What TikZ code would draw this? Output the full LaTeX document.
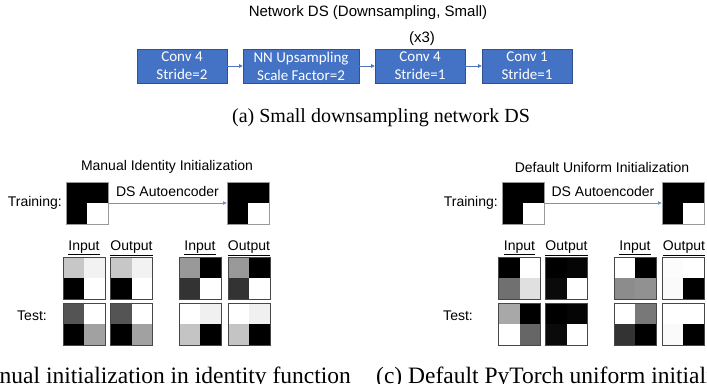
\documentclass[tikz,border=0pt]{standalone}
\usepackage{fontspec}
\setmainfont{Liberation Serif}
\setsansfont{Liberation Sans}
\newfontfamily\calibrifont{Carlito}
\usetikzlibrary{arrows.meta}
\definecolor{boxblue}{RGB}{68,114,196}
\definecolor{boxedge}{RGB}{47,82,143}
\definecolor{arrowblue}{RGB}{80,118,190}
\definecolor{linkblue}{RGB}{120,145,200}
\newcommand\tgrid[7]{%
  \fill[#4] (#2,#3) rectangle ++(21,21);
  \fill[#5] (#2+21,#3) rectangle ++(21,21);
  \fill[#6] (#2,#3+21) rectangle ++(21,21);
  \fill[#7] (#2+21,#3+21) rectangle ++(21,21);
  \node[gridframe] (#1) at (#2+21,#3+21) {};
}
\newcommand\trainsq[3]{%
  \fill[black] (#2,#3) rectangle ++(42,42);
  \fill[white] (#2+21,#3+21) rectangle ++(21,21);
  \node[trainframe] (#1) at (#2+21,#3+21) {};
}
\begin{document}
\begin{tikzpicture}[x=1pt,y=-1pt,
  blk/.style={draw=boxedge, line width=0.6pt, fill=boxblue, minimum width=#1,
    minimum height=34pt, inner sep=0pt, text=white,
    font=\calibrifont\fontsize{15}{18}\selectfont, align=center},
  flowarrow/.style={draw=arrowblue, line width=0.6pt, -{Triangle[length=3.5pt,width=3.5pt]}},
  panelarrow/.style={draw=linkblue, line width=0.6pt, -{Triangle[length=3.5pt,width=3.5pt,fill=arrowblue]}},
  sans/.style={font=\sffamily\fontsize{14}{16}\selectfont, inner sep=0pt},
  bigsans/.style={font=\sffamily\fontsize{15}{17}\selectfont, inner sep=0pt},
  caption/.style={font=\fontsize{20}{24}\selectfont, inner sep=0pt},
  subcaption/.style={font=\fontsize{23.5}{28}\selectfont, inner sep=0pt},
  gridframe/.style={draw=black!72, line width=1pt, minimum size=42pt, inner sep=0pt},
  trainframe/.style={draw=black!40, line width=0.8pt, minimum size=42pt, inner sep=0pt},
]
\useasboundingbox (0,0) rectangle (707,383);

% ---------- (a) network ----------
\node[bigsans] (title) at (368,13) {Network DS (Downsampling, Small)};
\node[blk=90pt]  (b1) at (182,66) {Conv 4\\Stride=2};
\node[blk=116pt] (b2) at (301,66) {NN Upsampling\\Scale Factor=2};
\node[blk=90pt]  (b3) at (420,66) {Conv 4\\Stride=1};
\node[blk=90pt]  (b4) at (527,66) {Conv 1\\Stride=1};
\node[bigsans] (x3) at (422,39) {(x3)};
\draw[flowarrow] (b1) -- (b2);
\draw[flowarrow] (b2) -- (b3);
\draw[flowarrow] (b3) -- (b4);
\node[caption] (capa) at (381,118) {(a) Small downsampling network DS};

% ---------- (b) manual identity ----------
\node[sans] (ltitle) at (167,167) {Manual Identity Initialization};
\node[sans, anchor=east] (ltrain) at (62,203) {Training:};
\trainsq{lt1}{66}{182}
\trainsq{lt2}{227}{182}
\draw[panelarrow] (lt1) -- node[sans, above=6pt] (lds) {DS Autoencoder} (lt2);

\tgrid{la1}{63}{257}{black!22}{black!5}{black}{white}
\tgrid{la2}{110.5}{257}{black!22}{black!5}{black}{white}
\tgrid{la3}{179}{257}{black!40}{black}{black!80}{white}
\tgrid{la4}{228}{257}{black!40}{black}{black!80}{white}
\tgrid{lb1}{63}{303}{black!67}{white}{black}{black!37}
\tgrid{lb2}{110.5}{303}{black!67}{white}{black}{black!37}
\tgrid{lb3}{179}{303}{white}{black!6}{black!23}{black}
\tgrid{lb4}{228}{303}{white}{black!6}{black!23}{black}
\node[sans] (li1) at (84,248) {\underline{Input}};
\node[sans] (lo1) at (131.5,248) {\underline{Output}};
\node[sans] (li2) at (200,248) {\underline{Input}};
\node[sans] (lo2) at (249,248) {\underline{Output}};
\node[sans, anchor=east] (ltest) at (47,316) {Test:};
\node[subcaption, anchor=base east] (capb) at (351,383.5) {(b) Manual initialization in identity function};

% ---------- (c) default uniform ----------
\node[sans] (rtitle) at (602,167) {Default Uniform Initialization};
\node[sans, anchor=east] (rtrain) at (498,203) {Training:};
\trainsq{rt1}{502}{182}
\trainsq{rt2}{662}{182}
\draw[panelarrow] (rt1) -- node[sans, above=6pt] (rds) {DS Autoencoder} (rt2);

\tgrid{ra1}{498.5}{257}{black}{white}{black!56}{black!12}
\tgrid{ra2}{545.5}{257}{black}{black!98}{black!96}{white}
\tgrid{ra3}{614}{257}{white}{black}{black!45}{black!43}
\tgrid{ra4}{662}{257}{black!1}{white}{black!2}{black}
\tgrid{rb1}{498.5}{303}{black!34}{black}{white}{black!60}
\tgrid{rb2}{545.5}{303}{black}{black!98}{black!96}{white}
\tgrid{rb3}{614}{303}{white}{black!53}{black!80}{black}
\tgrid{rb4}{662}{303}{white}{white}{black!2}{black}
\node[sans] (ri1) at (519.5,248) {\underline{Input}};
\node[sans] (ro1) at (566.5,248) {\underline{Output}};
\node[sans] (ri2) at (635,248) {\underline{Input}};
\node[sans] (ro2) at (684,248) {\underline{Output}};
\node[sans, anchor=east] (rtest) at (473,316) {Test:};
\node[subcaption, anchor=base west] (capc) at (376,383.5) {(c) Default PyTorch uniform initialization};
\end{tikzpicture}
\end{document}
